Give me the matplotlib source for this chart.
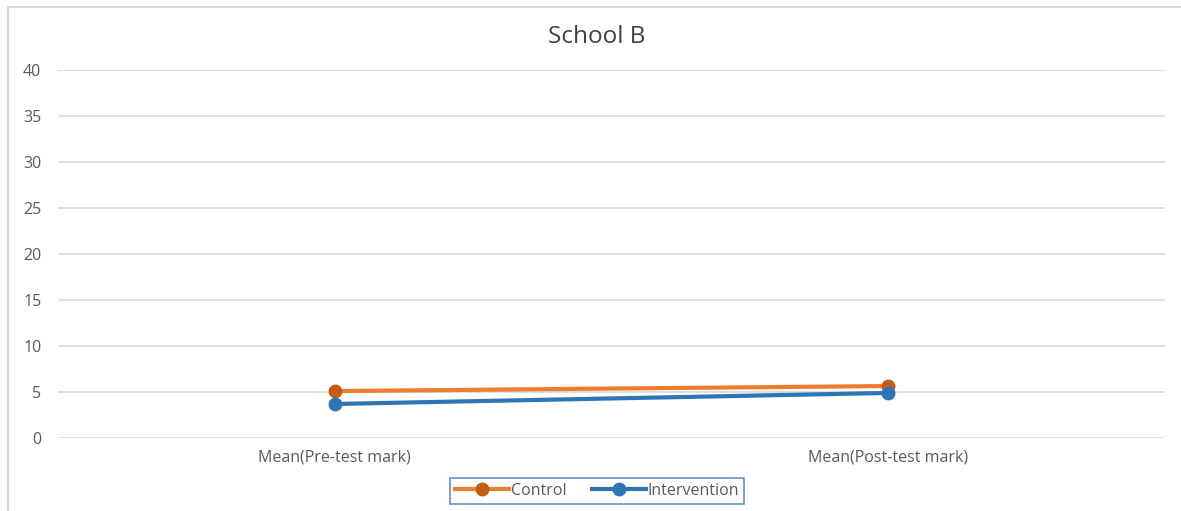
import matplotlib.pyplot as plt
import matplotlib.patches as mpatches

plt.rcParams['font.family'] = ['Open Sans', 'DejaVu Sans']

categories = ['Mean(Pre-test mark)', 'Mean(Post-test mark)']
control = [5.1, 5.65]
intervention = [3.7, 4.9]
yticks = [0, 5, 10, 15, 20, 25, 30, 35, 40]

W, H = 1181, 511
fig = plt.figure(figsize=(W / 100, H / 100), dpi=100)
ax = fig.add_axes([58 / W, 1 - 438 / H, (1165 - 58) / W, (438 - 70) / H])

x = range(len(categories))
ax.plot(x, control, color='#ED7D31', lw=3, marker='o', ms=9,
        mfc='#C55A11', mec='#C55A11', label='Control', zorder=3)
ax.plot(x, intervention, color='#2E75B6', lw=3, marker='o', ms=9,
        mfc='#2E75B6', mec='#2E75B6', label='Intervention', zorder=3)

ax.set_xlim(-0.5, 1.5)
ax.set_ylim(0, 40)
ax.set_yticks(yticks)
ax.set_xticks(list(x))
ax.set_xticklabels(categories)
ax.grid(axis='y', color='#D9D9D9', lw=1.2)
ax.set_axisbelow(True)
for s in ax.spines.values():
    s.set_visible(False)
ax.tick_params(length=0, colors='#595959', labelsize=11.5)
ax.tick_params(axis='y', pad=12)
ax.tick_params(axis='x', pad=8)

fig.text(597 / W, 1 - 37 / H, 'School B', ha='center', va='center',
         fontsize=17.5, color='#404040')

leg = fig.legend(loc='center', bbox_to_anchor=(597 / W, 1 - 491 / H), ncol=2,
                 frameon=True, fancybox=False, fontsize=11.5, handlelength=3.4,
                 handletextpad=0.1, columnspacing=1.6, borderpad=0.3)
leg.get_frame().set_edgecolor('#4472C4')
leg.get_frame().set_linewidth(1.2)
for t in leg.get_texts():
    t.set_color('#595959')

# thin border around the chart area
fig.patches.append(mpatches.Rectangle((8 / W, -0.05), 1.1, 1 - 7 / H + 0.05,
                                      transform=fig.transFigure, fill=False,
                                      edgecolor='#D0D0D0', lw=1.2))

fig.savefig('out.png', dpi=100)
